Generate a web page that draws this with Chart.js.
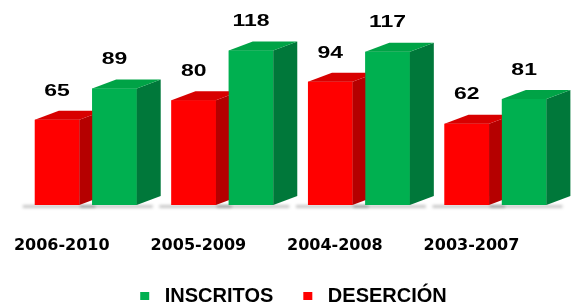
<!DOCTYPE html>
<html>
<head>
<meta charset="utf-8">
<script src="https://cdn.jsdelivr.net/npm/chart.js@4.4.0/dist/chart.umd.min.js"></script>
<style>
    html, body { margin: 0; padding: 0; background: #fff; }
    #wrap { width: 575px; height: 304px; }
</style>
</head>
<body>
<div id="wrap"><canvas id="grafico"></canvas></div>
<script>
const periodos = ["2006-2010", "2005-2009", "2004-2008", "2003-2007"];
const desercion = [65, 80, 94, 62];
const inscritos = [89, 118, 117, 81];

const caras = {
    desercion: { frente: "#ff0000", lado: "#b50000", arriba: "#d80000" },
    inscritos: { frente: "#00b050", lado: "#00783a", arriba: "#00a346" }
};

const prof = { dx: 24, dy: 9 };

// sombra gris bajo las barras
const sombra = {
    id: "sombra",
    beforeDatasetsDraw(chart) {
        const ctx = chart.ctx;
        ctx.save();
        ctx.filter = "blur(1.5px)";
        ctx.fillStyle = "rgba(0,0,0,0.22)";
        chart.data.datasets.forEach((ds, i) => {
            chart.getDatasetMeta(i).data.forEach(bar => {
                const p = bar.getProps(["x", "base", "width"], true);
                ctx.fillRect(p.x - p.width / 2 - 12, p.base, p.width + prof.dx + 4, 3);
            });
        });
        ctx.restore();
    }
};

// frente, lado y cara superior, de izquierda a derecha
const barras3d = {
    id: "barras3d",
    afterDatasetsDraw(chart) {
        const ctx = chart.ctx;
        ctx.save();
        chart.data.datasets.forEach((ds, i) => {
            const c = ds.caras;
            chart.getDatasetMeta(i).data.forEach(bar => {
                bar.draw(ctx);
                const p = bar.getProps(["x", "y", "base", "width"], true);
                const l = p.x - p.width / 2, r = p.x + p.width / 2;
                ctx.fillStyle = c.lado;
                ctx.beginPath();
                ctx.moveTo(r, p.y);
                ctx.lineTo(r + prof.dx, p.y - prof.dy);
                ctx.lineTo(r + prof.dx, p.base - prof.dy);
                ctx.lineTo(r, p.base);
                ctx.closePath();
                ctx.fill();
                ctx.fillStyle = c.arriba;
                ctx.beginPath();
                ctx.moveTo(l, p.y);
                ctx.lineTo(l + prof.dx, p.y - prof.dy);
                ctx.lineTo(r + prof.dx, p.y - prof.dy);
                ctx.lineTo(r, p.y);
                ctx.closePath();
                ctx.fill();
            });
        });
        ctx.restore();
    }
};

// valores encima de las barras
const valores = {
    id: "valores",
    afterDatasetsDraw(chart) {
        const ctx = chart.ctx;
        ctx.save();
        ctx.font = "bold 17px 'Liberation Sans', Arial, sans-serif";
        ctx.fillStyle = "#000";
        ctx.textAlign = "center";
        ctx.textBaseline = "middle";
        chart.data.datasets.forEach((ds, i) => {
            chart.getDatasetMeta(i).data.forEach((bar, j) => {
                ctx.save();
                ctx.translate(bar.x, bar.y - 29);
                ctx.scale(1.35, 1);
                ctx.fillText(ds.data[j], 0, 0);
                ctx.restore();
            });
        });
        ctx.restore();
    }
};

new Chart(document.getElementById("grafico"), {
    type: "bar",
    data: {
        labels: periodos,
        datasets: [
            {
                label: "DESERCIÓN",
                data: desercion,
                backgroundColor: caras.desercion.frente,
                borderWidth: 0,
                caras: caras.desercion
            },
            {
                label: "INSCRITOS",
                data: inscritos,
                backgroundColor: caras.inscritos.frente,
                borderWidth: 0,
                caras: caras.inscritos
            }
        ]
    },
    options: {
        responsive: true,
        maintainAspectRatio: false,
        animation: false,
        layout: { padding: { left: 17.5, right: 5.5, top: 8.5, bottom: 0 } },
        datasets: {
            bar: { categoryPercentage: 0.84, barPercentage: 0.776 }
        },
        scales: {
            x: {
                grid: { display: false, drawTicks: false },
                border: { display: false },
                ticks: {
                    padding: 31,
                    labelOffset: -24,
                    color: "#000",
                    font: { family: "'DejaVu Sans'", size: 16, weight: "bold" }
                },
                afterFit(scale) { scale.height = 51; }
            },
            y: {
                display: false,
                min: 0,
                max: 150
            }
        },
        plugins: {
            tooltip: { enabled: false },
            legend: {
                position: "bottom",
                reverse: true,
                maxHeight: 48,
                labels: {
                    boxWidth: 9,
                    boxHeight: 8,
                    padding: 30,
                    color: "#000",
                    font: { family: "'Liberation Sans', Arial, sans-serif", size: 20, weight: "bold" },
                    generateLabels(chart) {
                        const items = Chart.defaults.plugins.legend.labels.generateLabels(chart);
                        items.forEach(it => { it.text = " " + it.text; it.lineWidth = 0; });
                        return items;
                    }
                }
            }
        }
    },
    plugins: [sombra, barras3d, valores]
});
</script>
</body>
</html>
